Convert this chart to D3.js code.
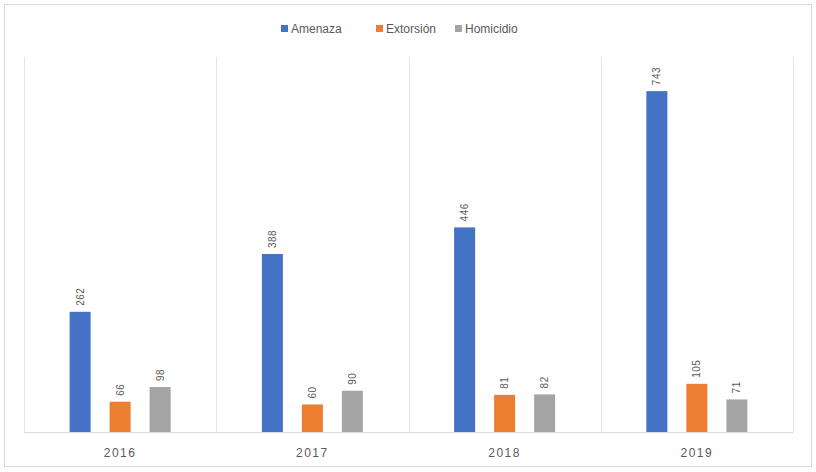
<!DOCTYPE html>
<html>
<head>
<meta charset="utf-8">
<script src="https://cdn.jsdelivr.net/npm/d3@7"></script>
<style>
  html, body { margin: 0; padding: 0; background: #fff; }
  svg { display: block; font-family: "Liberation Sans", "DejaVu Sans", sans-serif; }
</style>
</head>
<body>
<svg id="chart" width="816" height="472"></svg>
<script>
// Reported cases per year, by type
const years = ["2016", "2017", "2018", "2019"];
const seriesNames = ["Amenaza", "Extorsión", "Homicidio"];
const amenaza = [262, 388, 446, 743];
const extorsion = [66, 60, 81, 105];
const homicidio = [98, 90, 82, 71];
const seriesColors = ["#4472C4", "#ED7D31", "#A5A5A5"];

const seriesValues = [amenaza, extorsion, homicidio];
const rows = years.map((y, i) => ({
  year: y,
  values: seriesNames.map((name, s) => ({ name, color: seriesColors[s], value: seriesValues[s][i] }))
}));

const svg = d3.select("#chart");
const W = 816, H = 472;
const plot = { left: 24, right: 793, top: 65, bottom: 432 };

// outer chart border
svg.append("rect")
  .attr("x", 4.5).attr("y", 4.5)
  .attr("width", W - 9).attr("height", H - 10)
  .attr("fill", "#fff").attr("stroke", "#d9d9d9").attr("stroke-width", 1);

const x0 = d3.scaleBand().domain(years).range([plot.left, plot.right]).paddingInner(0).paddingOuter(0);
// three bars per year: 21px wide, 40px apart
const x1 = d3.scaleBand().domain(seriesNames).range([0, 101]).paddingInner(0.475).paddingOuter(0);
const y = d3.scaleLinear().domain([0, 800]).range([plot.bottom, plot.top]);

// vertical category separators
const seps = years.map(d => x0(d)).concat([plot.right]);
svg.append("g").selectAll("line").data(seps).join("line")
  .attr("x1", d => Math.round(d) + 0.5).attr("x2", d => Math.round(d) + 0.5)
  .attr("y1", plot.top - 8).attr("y2", plot.bottom)
  .attr("stroke", "#e3e3e3").attr("stroke-width", 1);

// baseline
svg.append("line")
  .attr("x1", plot.left).attr("x2", plot.right)
  .attr("y1", plot.bottom + 0.5).attr("y2", plot.bottom + 0.5)
  .attr("stroke", "#d9d9d9").attr("stroke-width", 1);

// bars and rotated value labels
const groups = svg.append("g").selectAll("g.year").data(rows).join("g")
  .attr("class", "year")
  .attr("transform", d => `translate(${x0(d.year) + x0.bandwidth() / 2 - 50.5},0)`);

groups.selectAll("rect").data(d => d.values).join("rect")
  .attr("x", d => x1(d.name))
  .attr("width", x1.bandwidth())
  .attr("y", d => y(d.value))
  .attr("height", d => y(0) - y(d.value))
  .attr("fill", d => d.color);

groups.selectAll("text").data(d => d.values).join("text")
  .attr("transform", d => `translate(${x1(d.name) + x1.bandwidth() / 2 + 3.5},${y(d.value) - 6}) rotate(-90)`)
  .attr("text-anchor", "start")
  .attr("font-size", 10)
  .attr("letter-spacing", 0.5)
  .attr("fill", "#595959")
  .text(d => d.value);

// category axis labels
svg.append("g").selectAll("text").data(years).join("text")
  .attr("x", d => x0(d) + x0.bandwidth() / 2)
  .attr("y", 457)
  .attr("text-anchor", "middle")
  .attr("font-size", 12)
  .attr("letter-spacing", 1.5)
  .attr("fill", "#595959")
  .text(d => d);

// legend
const legendX = [281, 376, 455];
const legend = svg.append("g").selectAll("g").data(seriesNames).join("g")
  .attr("transform", (d, i) => `translate(${legendX[i]},29)`);
legend.append("rect")
  .attr("x", 0).attr("y", -4).attr("width", 7).attr("height", 7)
  .attr("fill", (d, i) => seriesColors[i]);
legend.append("text")
  .attr("x", 10).attr("y", 4)
  .attr("font-size", 12)
  .attr("fill", "#595959")
  .text(d => d);
</script>
</body>
</html>
